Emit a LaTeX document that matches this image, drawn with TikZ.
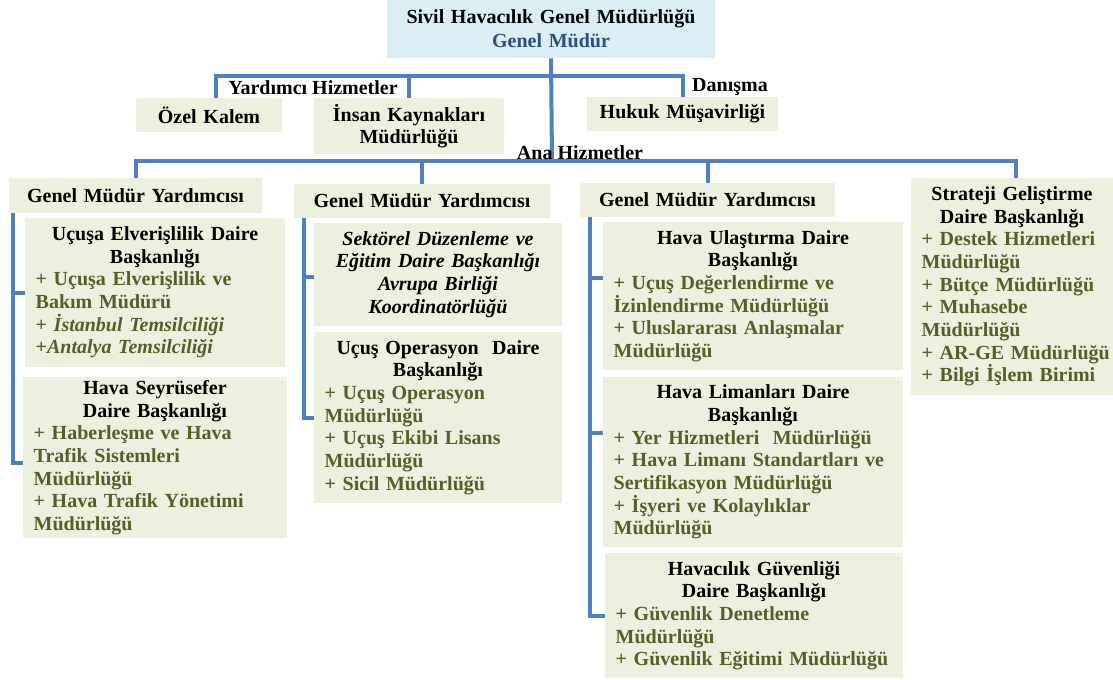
\documentclass[tikz,border=0pt]{standalone}
\usepackage{fontspec}
\setmainfont{Liberation Serif}
\setlength\parindent{0pt}
\definecolor{boxfill}{HTML}{EBF1DE}
\definecolor{topfill}{HTML}{DBEEF4}
\definecolor{grn}{HTML}{4F6228}
\definecolor{gmblue}{HTML}{2F4F7F}
\definecolor{connc}{HTML}{4F81BD}
\newcommand\orgbox[8]{%
  \pgfmathsetmacro\obw{(#4-#2)*0.75}%
  \pgfmathsetmacro\obh{(#5-#3)*0.75}%
  \pgfmathsetmacro\otw{(#4-#2)*0.75-2*#6}%
  \node[#7, inner xsep=#6pt, inner ysep=0pt, minimum width=\obw pt, minimum height=\obh pt, text width=\otw pt] (#1) at ({(#2+#4)/2},{(#3+#5)/2}) {#8};}
\newcommand\ttl[1]{{\centering #1\par}}
\newcommand\itm{\color{grn}}
\begin{document}
\begin{tikzpicture}[x=0.75pt,y=-0.75pt,
  orgtxt/.style={font=\bfseries\fontsize{15}{17}\selectfont},
  box/.style={orgtxt, fill=boxfill, align=left},
  cbox/.style={orgtxt, fill=boxfill, align=center},
  tbox/.style={font=\bfseries\fontsize{15}{18}\selectfont, fill=topfill, align=center},
  conn/.style={draw=connc, line width=3pt},
  lbl/.style={orgtxt, inner sep=0pt}]
\fill[white] (0,0) rectangle (1113,679);
\useasboundingbox (0,0) rectangle (1113,679);

\orgbox{top}{387}{0}{715}{58}{8}{tbox}{Sivil Havacılık Genel Müdürlüğü\\\textcolor{gmblue}{Genel Müdür}}
\orgbox{ozel}{136}{98}{282}{132}{4}{cbox}{Özel Kalem}
\orgbox{insan}{314}{98}{504}{154}{4}{cbox}{İnsan Kaynakları\\Müdürlüğü}
\orgbox{hukuk}{587}{97}{778}{131}{4}{cbox}{Hukuk Müşavirliği}

\orgbox{gmy1}{9}{178}{262}{213}{4}{cbox}{Genel Müdür Yardımcısı}
\orgbox{gmy2}{294}{184}{550}{218}{4}{cbox}{Genel Müdür Yardımcısı}
\orgbox{gmy3}{580}{183}{835}{217}{4}{cbox}{Genel Müdür Yardımcısı}
\orgbox{strat}{911}{178}{1113}{395}{8}{box}{\ttl{Strateji Geliştirme\\Daire Başkanlığı}\itm + Destek Hizmetleri\\Müdürlüğü\\+ Bütçe Müdürlüğü\\+ Muhasebe\\Müdürlüğü\\\mbox{+ AR-GE Müdürlüğü}\\+ Bilgi İşlem Birimi}

\orgbox{ucusa}{25}{218}{285}{367}{8}{box}{\ttl{Uçuşa Elverişlilik Daire\\Başkanlığı}\itm + Uçuşa Elverişlilik ve\\Bakım Müdürü\\+ \textit{İstanbul Temsilciliği}\\+\textit{Antalya Temsilciliği}}
\orgbox{hs}{23}{377}{287}{538}{8}{box}{\ttl{Hava Seyrüsefer\\Daire Başkanlığı}\itm + Haberleşme ve Hava\\Trafik Sistemleri\\Müdürlüğü\\+ Hava Trafik Yönetimi\\Müdürlüğü}

\orgbox{sekt}{314}{223}{562}{326}{8}{cbox}{\itshape Sektörel Düzenleme ve\\Eğitim Daire Başkanlığı\\Avrupa Birliği\\Koordinatörlüğü}
\orgbox{uop}{314}{332}{562}{503}{8}{box}{\ttl{Uçuş Operasyon\ \ Daire\\Başkanlığı}\itm + Uçuş Operasyon\\Müdürlüğü\\+ Uçuş Ekibi Lisans\\Müdürlüğü\\+ Sicil Müdürlüğü}

\orgbox{hu}{603}{222}{903}{370}{8}{box}{\ttl{Hava Ulaştırma Daire\\Başkanlığı}\itm + Uçuş Değerlendirme ve\\İzinlendirme Müdürlüğü\\+ Uluslararası Anlaşmalar\\Müdürlüğü}
\orgbox{hl}{603}{377}{903}{547}{8}{box}{\ttl{Hava Limanları Daire\\Başkanlığı}\itm + Yer Hizmetleri\ \ Müdürlüğü\\+ Hava Limanı Standartları ve\\Sertifikasyon Müdürlüğü\\+ İşyeri ve Kolaylıklar\\Müdürlüğü}
\orgbox{hg}{605}{553}{903}{678}{8}{box}{\ttl{Havacılık Güvenliği\\Daire Başkanlığı}\itm + Güvenlik Denetleme\\Müdürlüğü\\+ Güvenlik Eğitimi Müdürlüğü}

% connectors
\coordinate (ana) at (552,161);
\draw[conn] (top.south) -- (ana);
\draw[conn] ([xshift=5.25pt]ozel.north) -- ++(0,-22) -| (hukuk.north);
\draw[conn] (insan.north) -- ++(0,-22);
\draw[conn] (gmy1.north) -- (gmy1.north |- ana) -| ([xshift=3pt]strat.north);
\draw[conn] (gmy2.north) -- (gmy2.north |- ana);
\draw[conn] (gmy3.north) -- (gmy3.north |- ana);

\coordinate (b1) at ([xshift=3pt]gmy1.south west);
\coordinate (hst) at ([yshift=-4pt]hs.west);
\draw[conn] (b1) |- (hst);
\draw[conn] (b1 |- ucusa.west) -- (ucusa.west);

\coordinate (b2) at ([xshift=7.5pt]gmy2.south west);
\coordinate (sekt) at ([yshift=-2pt]sekt.west);
\draw[conn] (b2) |- (uop.west);
\draw[conn] (b2 |- sekt) -- (sekt);

\coordinate (b3) at ([xshift=7.5pt]gmy3.south west);
\coordinate (hut) at ([yshift=13.5pt]hu.west);
\coordinate (hlt) at ([yshift=21.75pt]hl.west);
\draw[conn] (b3) |- (hg.west);
\draw[conn] (b3 |- hut) -- (hut);
\draw[conn] (b3 |- hlt) -- (hlt);

% labels
\node[lbl] (yh) at (313,88) {Yardımcı Hizmetler};
\node[lbl] (dan) at (730,87) {Danışma};
\node[lbl] (ah) at (580,153) {Ana Hizmetler};
\end{tikzpicture}
\end{document}
